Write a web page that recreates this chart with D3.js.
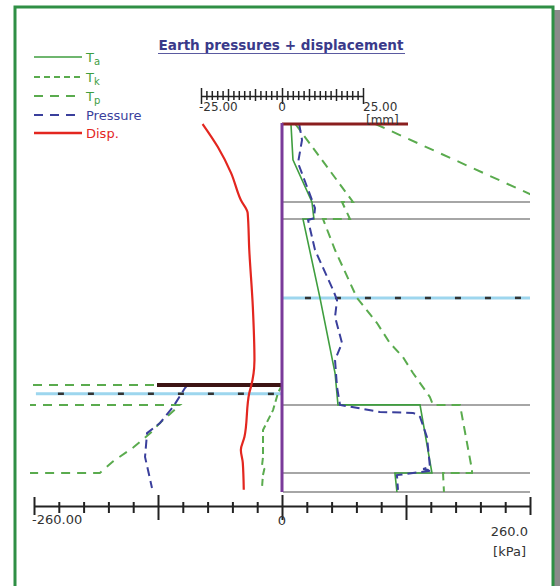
<!DOCTYPE html>
<html>
<head>
<meta charset="utf-8">
<script src="https://cdn.jsdelivr.net/npm/d3@7"></script>
<style>
  body { margin: 0; background: #fff; }
  svg { display: block; font-family: "DejaVu Sans", sans-serif; }
</style>
</head>
<body>
<div id="chart"></div>
<script>
const width = 560;
const height = 586;

// [depth m, value kPa]
const taRight = [[0, 9.4], [1.17, 11.5], [2.54, 31.4], [3.1, 33.5], [3.1, 22], [5.67, 39.8], [8.12, 55.6], [9.16, 58.7],
  [9.16, 144.7], [11.38, 157.2], [11.38, 118.4], [12, 120.5]];
const tkRight = [[0, 14], [2.54, 74.4], [2.54, 62.9], [3.1, 71.3], [3.1, 43], [4.11, 55.6], [5.67, 78.6], [6.49, 99.6],
  [7.14, 113], [7.6, 126.8], [8.12, 137.3], [8.9, 155], [9.16, 158.3], [9.16, 186.6], [11.28, 199.2], [11.38, 199.2],
  [11.38, 168.8], [12, 169.8]];
const tpRight = [[0, 98], [2.54, 278], [3.1, 300], [12, 800]];
const pressRight = [[0, 18], [0.52, 21], [1.27, 16.8], [2.74, 34.6], [3.07, 33.5], [3.13, 27.3], [4.11, 34.6],
  [5.41, 53.5], [5.74, 57.7], [6.29, 55.6], [7.14, 62.9], [7.7, 55.6], [8.58, 57.7], [9.16, 60.8], [9.39, 102.7],
  [9.42, 137.3], [9.49, 142.6], [9.55, 144.7], [10.21, 152], [11.18, 155.1], [11.25, 148], [11.3, 157.2],
  [11.38, 137.3], [11.45, 120.5], [11.93, 121.6]];

const tkLeft = [[8.51, 0], [8.77, -4.2], [9.33, -9.4], [9.98, -19.9], [10.86, -19.9], [11.15, -21], [11.25, -18.5],
  [11.45, -20], [11.87, -21]];
const tpLeft = [[8.51, 0], [8.51, -400], [9.16, -400], [9.16, -107], [9.75, -128], [10.08, -138], [10.55, -156],
  [11.0, -177], [11.38, -191], [11.38, -400], [12, -400]];
const pressLeft = [[8.51, -99], [8.61, -101.7], [9.23, -114.3], [9.75, -127.9], [10.08, -141.5], [10.86, -143.6],
  [11.28, -140.5], [11.87, -136.3]];

// [depth m, displacement mm]
const disp = [[0, -24.5], [0.75, -19.8], [1.6, -15.7], [2.48, -12.7], [2.9, -10.6], [4.11, -10.1], [5.97, -9.0],
  [7.7, -8.5], [8.58, -9.6], [8.77, -10.1], [10.21, -11.6], [10.63, -12.7], [11.05, -12.1], [11.93, -11.8]];

const layerDepths = [2.54, 3.1, 9.16, 11.38, 12];
const waterRight = 5.67;
const waterLeft = 8.8;
const excavation = 8.51;

const kpaTicks = d3.range(-260, 261, 26);
const mmTicks = d3.range(-25, 25.01, 25 / 15);

const legendNames = ['T', 'T', 'T', 'Pressure', 'Disp.'];
const legendSubs = ['a', 'k', 'p', '', ''];

const green = '#3f9e3f';
const greenDash = '#5aab4e';
const blue = '#3a3f9c';
const red = '#e3261f';

const x = d3.scaleLinear().domain([-260, 260]).range([34, 530]);
const xmm = d3.scaleLinear().domain([-25, 25]).range([201, 363]);
const y = d3.scaleLinear().domain([0, 12]).range([124, 492]);

const svg = d3.select('#chart').append('svg').attr('width', width).attr('height', height);

// frame
svg.append('rect').attr('x', 553).attr('y', 10).attr('width', 7).attr('height', 590).attr('fill', '#8a8a8a');
svg.append('rect').attr('x', 15).attr('y', 7).attr('width', 538).attr('height', 600)
  .attr('fill', '#fff').attr('stroke', '#2f8f45').attr('stroke-width', 3);

// title
svg.append('text').attr('x', 281).attr('y', 50).attr('text-anchor', 'middle')
  .attr('font-size', 14).attr('font-weight', 600).attr('fill', '#3a3a8a')
  .attr('textLength', 245).attr('lengthAdjust', 'spacingAndGlyphs')
  .text('Earth pressures + displacement');
svg.append('line').attr('x1', 158).attr('x2', 405).attr('y1', 53.5).attr('y2', 53.5)
  .attr('stroke', '#5a5aa0').attr('stroke-width', 1);

// layer lines (right side)
svg.append('g').selectAll('line').data(layerDepths).join('line')
  .attr('x1', x(1)).attr('x2', x(260)).attr('y1', d => y(d)).attr('y2', d => y(d))
  .attr('stroke', '#a6a6a6').attr('stroke-width', 2);

// water tables
function water(x1, x2, d) {
  svg.append('line').attr('x1', x1).attr('x2', x2).attr('y1', y(d)).attr('y2', y(d))
    .attr('stroke', '#9dd6ee').attr('stroke-width', 3);
  svg.append('line').attr('x1', x1).attr('x2', x2).attr('y1', y(d)).attr('y2', y(d))
    .attr('stroke', '#333').attr('stroke-width', 2.5).attr('stroke-dasharray', '6,24')
    .attr('stroke-dashoffset', -22);
}
water(x(1), x(260), waterRight);
water(x(-258), x(0), waterLeft);

// curves
const clip = svg.append('clipPath').attr('id', 'plot');
clip.append('rect').attr('x', 30).attr('y', 110).attr('width', 500).attr('height', 390);

const line = d3.line().x(d => x(d[1])).y(d => y(d[0]));
const curves = [
  {data: tpLeft, color: greenDash, dash: '9,7', w: 2},
  {data: tkLeft, color: greenDash, dash: '7,4', w: 2},
  {data: pressLeft, color: blue, dash: '9,5', w: 2},
  {data: tpRight, color: greenDash, dash: '10,8', w: 2},
  {data: tkRight, color: greenDash, dash: '9,6', w: 2},
  {data: taRight, color: green, dash: null, w: 1.6},
  {data: pressRight, color: blue, dash: '9,5', w: 2}
];
const cg = svg.append('g').attr('clip-path', 'url(#plot)');
curves.forEach(c => {
  cg.append('path').attr('d', line(c.data)).attr('fill', 'none')
    .attr('stroke', c.color).attr('stroke-width', c.w).attr('stroke-dasharray', c.dash);
});

// terrain lines
svg.append('line').attr('x1', x(0)).attr('x2', 408).attr('y1', y(0)).attr('y2', y(0))
  .attr('stroke', '#8a1e1e').attr('stroke-width', 3);
svg.append('line').attr('x1', 157).attr('x2', x(0)).attr('y1', y(excavation)).attr('y2', y(excavation))
  .attr('stroke', '#3d1414').attr('stroke-width', 4);

// displacement
svg.append('path')
  .attr('d', d3.line().curve(d3.curveMonotoneY).x(d => xmm(d[1])).y(d => y(d[0]))(disp))
  .attr('fill', 'none').attr('stroke', red).attr('stroke-width', 2.2);

// wall
svg.append('line').attr('x1', x(0)).attr('x2', x(0)).attr('y1', y(0) - 1).attr('y2', y(12))
  .attr('stroke', '#7a3a9a').attr('stroke-width', 3);

// bottom kPa axis
svg.append('g').attr('transform', 'translate(0,506)')
  .call(d3.axisBottom(x).tickValues(kpaTicks).tickFormat('').tickSizeOuter(0))
  .call(g => g.select('.domain').attr('stroke', '#222').attr('stroke-width', 2))
  .call(g => g.selectAll('.tick line').attr('stroke', '#222').attr('stroke-width', 2)
    .attr('y1', d => Math.abs(d) === 260 ? -9 : (d % 130 === 0 ? -11 : -4))
    .attr('y2', d => Math.abs(d) === 260 ? 9 : (d % 130 === 0 ? 14 : 7)));
const axisText = svg.append('g').attr('fill', '#333').attr('font-size', 13);
axisText.append('text').attr('x', x(-260) - 2).attr('y', 524).text('-260.00');
axisText.append('text').attr('x', x(0)).attr('y', 525).attr('text-anchor', 'middle').text('0');
axisText.append('text').attr('x', x(260) - 2).attr('y', 536).attr('text-anchor', 'end').text('260.0');
axisText.append('text').attr('x', x(260) - 4).attr('y', 556).attr('text-anchor', 'end').text('[kPa]');

// top mm axis
svg.append('g').attr('transform', 'translate(0,96)')
  .call(d3.axisTop(xmm).tickValues(mmTicks).tickFormat('').tickSizeOuter(0))
  .call(g => g.select('.domain').attr('stroke', '#222').attr('stroke-width', 1.5))
  .call(g => g.selectAll('.tick line').attr('stroke', '#222').attr('stroke-width', 1.5)
    .attr('y1', (d, i) => i % 15 === 0 ? 8 : (i % 5 === 0 ? 5 : 4))
    .attr('y2', (d, i) => i % 15 === 0 ? -8 : (i % 5 === 0 ? -7 : -5)));
const mmText = svg.append('g').attr('fill', '#333').attr('font-size', 12);
mmText.append('text').attr('x', xmm(-25) - 2).attr('y', 111).text('-25.00');
mmText.append('text').attr('x', xmm(0)).attr('y', 111).attr('text-anchor', 'middle').text('0');
mmText.append('text').attr('x', xmm(25)).attr('y', 111).text('25.00');
mmText.append('text').attr('x', 366).attr('y', 124).text('[mm]');

// legend
const legY = [57, 77, 96, 115, 133];
const legColor = [green, greenDash, greenDash, blue, red];
const legDash = [null, '6,4', '9,7', '9,7', null];
const legW = [1.6, 2, 2, 2, 2.5];
const leg = svg.append('g');
legendNames.forEach((name, i) => {
  leg.append('line').attr('x1', 34).attr('x2', 82).attr('y1', legY[i]).attr('y2', legY[i])
    .attr('stroke', legColor[i]).attr('stroke-width', legW[i]).attr('stroke-dasharray', legDash[i]);
  const t = leg.append('text').attr('x', 86).attr('y', legY[i] + 5).attr('font-size', 13)
    .attr('fill', legColor[i] === greenDash ? green : legColor[i]);
  t.append('tspan').text(name);
  if (legendSubs[i]) t.append('tspan').attr('dy', 3).attr('font-size', 10).text(legendSubs[i]);
});
</script>
</body>
</html>
